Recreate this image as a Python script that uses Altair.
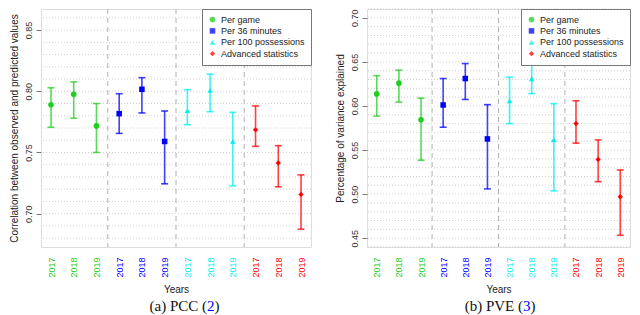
import altair as alt
import pandas as pd

groups = ["Per game", "Per 36 minutes", "Per 100 possessions", "Advanced statistics"]
years = ["2017", "2018", "2019"]
colors = ["#22cc22", "#0000ff", "#00eeee", "#ff0000"]
shapes = ["circle", "square", "triangle-up", "diamond"]
sizes = [32, 28, 32, 14]

# PCC panel
pcc_mean = [0.789, 0.7976, 0.7717, 0.7817, 0.8016, 0.759, 0.7841, 0.8008, 0.759, 0.7685, 0.7415, 0.7157]
pcc_lo = [0.7706, 0.778, 0.750, 0.7656, 0.7823, 0.7244, 0.7727, 0.7833, 0.7228, 0.755, 0.722, 0.6873]
pcc_hi = [0.8029, 0.8077, 0.790, 0.798, 0.8111, 0.7839, 0.8013, 0.814, 0.7828, 0.788, 0.7556, 0.7317]
pcc_ticks = [0.70, 0.75, 0.80, 0.85]
pcc_grid = [0.68, 0.69, 0.70, 0.71, 0.72, 0.73, 0.74, 0.75, 0.76, 0.77, 0.78, 0.79,
            0.80, 0.81, 0.82, 0.83, 0.84, 0.85, 0.86]
pcc_domain = [0.6728, 0.8672]

# PVE panel
pve_mean = [0.6137, 0.6259, 0.5844, 0.6011, 0.6311, 0.5626, 0.6056, 0.6307, 0.5619, 0.580, 0.5393, 0.497]
pve_lo = [0.5885, 0.6044, 0.5385, 0.5759, 0.6074, 0.5059, 0.580, 0.6141, 0.5037, 0.5578, 0.5141, 0.4533]
pve_hi = [0.6344, 0.6407, 0.6089, 0.6311, 0.6481, 0.6015, 0.6326, 0.6474, 0.6026, 0.6059, 0.5615, 0.5274]
pve_ticks = [0.45, 0.50, 0.55, 0.60, 0.65, 0.70]
pve_grid = [0.44, 0.45, 0.46, 0.47, 0.48, 0.49, 0.50, 0.51, 0.52, 0.53, 0.54, 0.55, 0.56,
            0.57, 0.58, 0.59, 0.60, 0.61, 0.62, 0.63, 0.64, 0.65, 0.66, 0.67, 0.68, 0.69, 0.70, 0.71]
pve_domain = [0.44, 0.71]

separators = [3.5, 6.5, 9.5]
positions = list(range(1, 13))

FONT = "Liberation Sans"
SERIF = "Liberation Serif"
H = 238


def panel(mean, lo, hi, ticks, grid, domain, ytitle, width, cap_parts, cap_x):
    df = pd.DataFrame({
        "idx": positions,
        "group": [g for g in groups for _ in years],
        "year": years * 4,
        "mean": mean, "lo": lo, "hi": hi,
    })
    xscale = alt.Scale(domain=[0.56, 12.44], nice=False, zero=False)
    yscale = alt.Scale(domain=domain, nice=False, zero=False)
    label_color = {
        "condition": [
            {"test": "datum.value <= 3", "value": colors[0]},
            {"test": "datum.value <= 6", "value": colors[1]},
            {"test": "datum.value <= 9", "value": colors[2]},
        ],
        "value": colors[3],
    }
    xaxis = alt.Axis(values=positions, labelExpr="['2017','2018','2019'][(datum.value-1)%3]",
                     labelAngle=270, ticks=False, domain=False, grid=False, labelPadding=10,
                     labelFontSize=9, labelColor=label_color, title="Years",
                     titleFontSize=10, titleFontWeight="normal", titlePadding=7,
                     titleColor="#222", labelFont=FONT, titleFont=FONT)
    yaxis = alt.Axis(values=ticks, format=".2f", labelAngle=270, grid=False, domain=False,
                     tickSize=5, tickColor="#777", labelFontSize=9, labelColor="#333",
                     labelPadding=3, title=ytitle, titleFontSize=10, titleFontWeight="normal",
                     titleColor="#222", titlePadding=5, labelFont=FONT, titleFont=FONT)

    legend = alt.Legend(title=None, orient="top-right", offset=0, padding=6,
                        strokeColor="#777", fillColor="white", labelFontSize=9,
                        labelFont=FONT, labelColor="#222", rowPadding=1.4, labelOffset=4,
                        symbolStrokeWidth=0, cornerRadius=0)
    cscale = alt.Scale(domain=groups, range=colors)
    color = alt.Color("group:N", scale=cscale, legend=legend)
    shape = alt.Shape("group:N", scale=alt.Scale(domain=groups, range=shapes), legend=legend)
    size = alt.Size("group:N", scale=alt.Scale(domain=groups, range=sizes), legend=legend)

    X = lambda f: alt.X(f, scale=xscale, axis=xaxis)
    Y = lambda f: alt.Y(f, scale=yscale, axis=yaxis)

    grid_layer = alt.Chart(pd.DataFrame({"g": grid})).mark_rule(
        color="#d0d0d0", strokeDash=[1, 2], strokeWidth=1
    ).encode(y=Y("g:Q"))

    sep_layer = alt.Chart(pd.DataFrame({"s": separators})).mark_rule(
        color="#b0b0b0", strokeDash=[5, 4], strokeWidth=1
    ).encode(x=X("s:Q"))

    bars = alt.Chart(df).mark_rule(strokeWidth=1.6, opacity=0.75).encode(
        x=X("idx:Q"), y=Y("lo:Q"), y2="hi:Q", color=color,
    )
    cap_lo = alt.Chart(df).mark_rule(strokeWidth=1.6, opacity=0.75, xOffset=-3.5, x2Offset=3.5).encode(
        x=X("idx:Q"), x2="idx:Q", y=Y("lo:Q"), color=color,
    )
    cap_hi = alt.Chart(df).mark_rule(strokeWidth=1.6, opacity=0.75, xOffset=-3.5, x2Offset=3.5).encode(
        x=X("idx:Q"), x2="idx:Q", y=Y("hi:Q"), color=color,
    )
    pts = alt.Chart(df).mark_point(filled=True, opacity=1).encode(
        x=X("idx:Q"), y=Y("mean:Q"), color=color, shape=shape, size=size,
    )
    cap_y = H + 59
    c1 = alt.Chart(pd.DataFrame({"t": [cap_parts[0]]})).mark_text(
        font=SERIF, fontSize=15, align="right", baseline="middle", color="#111"
    ).encode(x=alt.value(cap_x), y=alt.value(cap_y), text="t:N")
    c2 = alt.Chart(pd.DataFrame({"t": [cap_parts[1]]})).mark_text(
        font=SERIF, fontSize=15, align="left", baseline="middle", color="#0000ff"
    ).encode(x=alt.value(cap_x), y=alt.value(cap_y), text="t:N")
    c3 = alt.Chart(pd.DataFrame({"t": [cap_parts[2]]})).mark_text(
        font=SERIF, fontSize=15, align="left", baseline="middle", color="#111"
    ).encode(x=alt.value(cap_x + 7.5), y=alt.value(cap_y), text="t:N")

    return alt.layer(grid_layer, sep_layer, bars, cap_lo, cap_hi, pts, c1, c2, c3).properties(
        width=width, height=H
    )


left = panel(pcc_mean, pcc_lo, pcc_hi, pcc_ticks, pcc_grid, pcc_domain,
             "Correlation between observed and predicted values", 270,
             ["(a) PCC (", "2", ")"], 166)
right = panel(pve_mean, pve_lo, pve_hi, pve_ticks, pve_grid, pve_domain,
              "Percentage of variance explained", 263,
              ["(b) PVE (", "3", ")"], 156)

chart = alt.hconcat(left, right, spacing=22).resolve_legend(
    color="independent", shape="independent", size="independent"
).resolve_scale(color="independent", shape="independent", size="independent",
                x="independent", y="independent").configure_view(
    stroke="#888", strokeWidth=1
).configure(padding=0, background="white")

chart.save("out.html", embed_options={"renderer": "svg", "actions": False})
